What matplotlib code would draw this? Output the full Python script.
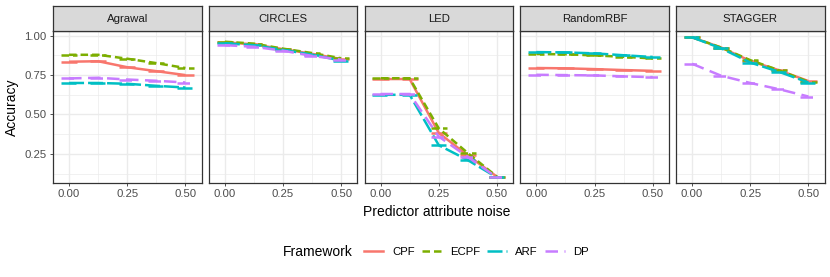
import numpy as np
import matplotlib
matplotlib.use("Agg")
from matplotlib import pyplot as plt
from matplotlib.lines import Line2D

plt.rcParams['font.family'] = ['Liberation Sans', 'DejaVu Sans']

# ==============================================================
#  DATA
# ==============================================================

noise = np.array([0.0, 0.125, 0.25, 0.375, 0.5])
datasets = ["Agrawal", "CIRCLES", "LED", "RandomRBF", "STAGGER"]
frameworks = ["CPF", "ECPF", "ARF", "DP"]

# accuracy per dataset (rows) and noise level (columns)
cpf = [[0.835, 0.838, 0.800, 0.775, 0.750],
       [0.958, 0.945, 0.915, 0.885, 0.852],
       [0.725, 0.725, 0.383, 0.240, 0.105],
       [0.795, 0.793, 0.788, 0.782, 0.777],
       [0.990, 0.925, 0.840, 0.780, 0.712]]
ecpf = [[0.879, 0.879, 0.854, 0.826, 0.795],
        [0.962, 0.950, 0.918, 0.890, 0.857],
        [0.730, 0.730, 0.412, 0.255, 0.105],
        [0.884, 0.882, 0.875, 0.866, 0.856],
        [0.990, 0.925, 0.845, 0.780, 0.708]]
arf = [[0.700, 0.700, 0.695, 0.682, 0.671],
       [0.952, 0.940, 0.910, 0.880, 0.842],
       [0.625, 0.625, 0.305, 0.210, 0.100],
       [0.896, 0.894, 0.888, 0.876, 0.865],
       [0.990, 0.920, 0.830, 0.770, 0.703]]
dp = [[0.729, 0.733, 0.722, 0.714, 0.703],
      [0.940, 0.930, 0.905, 0.872, 0.848],
      [0.630, 0.630, 0.360, 0.230, 0.100],
      [0.752, 0.750, 0.748, 0.742, 0.737],
      [0.822, 0.746, 0.700, 0.660, 0.614]]
series = [cpf, ecpf, arf, dp]

colors = ['#F8766D', '#7CAE00', '#00BFC4', '#C77CFF']
styles = ['-', (0, (3, 1.6)), (0, (6, 1.6)), (0, (5, 2.6))]
half_w = 0.035
lw = 1.8

# ==============================================================
#  FIGURE
# ==============================================================

W, H = 830, 277
fig = plt.figure(figsize=(W / 100, H / 100), dpi=100)

def rect(x0, y0, x1, y1):
    return [x0 / W, 1 - y1 / H, (x1 - x0) / W, (y1 - y0) / H]

border = '#333333'
small = 8.2
for i, name in enumerate(datasets):
    left = 53 + i * 155.75
    ax = fig.add_axes(rect(left, 31, left + 148.5, 183))
    ax.set_xlim(-0.069, 0.569)
    ax.set_ylim(0.065, 1.03)
    ax.set_xticks([0, 0.25, 0.5])
    ax.set_xticks([0.125, 0.375], minor=True)
    ax.set_yticks([0.25, 0.5, 0.75, 1.0])
    ax.set_yticks([0.125, 0.375, 0.625, 0.875], minor=True)
    ax.set_xticklabels(["0.00", "0.25", "0.50"])
    ax.grid(True, which='major', color='#EBEBEB', lw=1.0)
    ax.grid(True, which='minor', color='#EBEBEB', lw=0.5)
    ax.set_axisbelow(True)
    ax.tick_params(which='minor', length=0)
    ax.tick_params(which='major', length=2.5, width=0.6, color=border,
                   labelsize=small, labelcolor='#4D4D4D', pad=2)
    if i == 0:
        ax.set_yticklabels(["0.25", "0.50", "0.75", "1.00"])
    else:
        ax.tick_params(axis='y', which='major', length=0, labelleft=False)
    for sp in ax.spines.values():
        sp.set_color(border)
        sp.set_linewidth(0.9)

    for vals, c, ls in zip(series, colors, styles):
        y = np.array(vals[i])
        ax.plot(noise, y, color=c, ls=ls, lw=lw, solid_capstyle='butt',
                dash_capstyle='butt')
        ax.hlines(y, noise - half_w, noise + half_w, colors=c, linestyles=[ls],
                  lw=lw, capstyle='butt')

    sax = fig.add_axes(rect(left, 6, left + 148.5, 31))
    sax.set_facecolor('#D9D9D9')
    sax.set_xticks([])
    sax.set_yticks([])
    for sp in sax.spines.values():
        sp.set_color(border)
        sp.set_linewidth(0.9)
    sax.text(0.5, 0.5, name, ha='center', va='center', fontsize=small,
             color='#1A1A1A', transform=sax.transAxes)

fig.text(437 / W, 1 - 212 / H, "Predictor attribute noise", ha='center',
         va='center', fontsize=10)
fig.text(12 / W, 1 - 107 / H, "Accuracy", ha='center', va='center',
         rotation=90, fontsize=10)

# legend
fig.text(283 / W, 1 - 252 / H, "Framework", ha='left', va='center', fontsize=10)
handles = [Line2D([], [], color=c, ls=ls, lw=lw) for c, ls in zip(colors, styles)]
fig.legend(handles, frameworks, loc='center left', bbox_to_anchor=(364 / W, 1 - 252 / H),
           ncol=4, frameon=False, fontsize=small, handlelength=1.7,
           handletextpad=0.75, columnspacing=0.65, borderaxespad=0, borderpad=0)

fig.savefig("out.png", dpi=100)
